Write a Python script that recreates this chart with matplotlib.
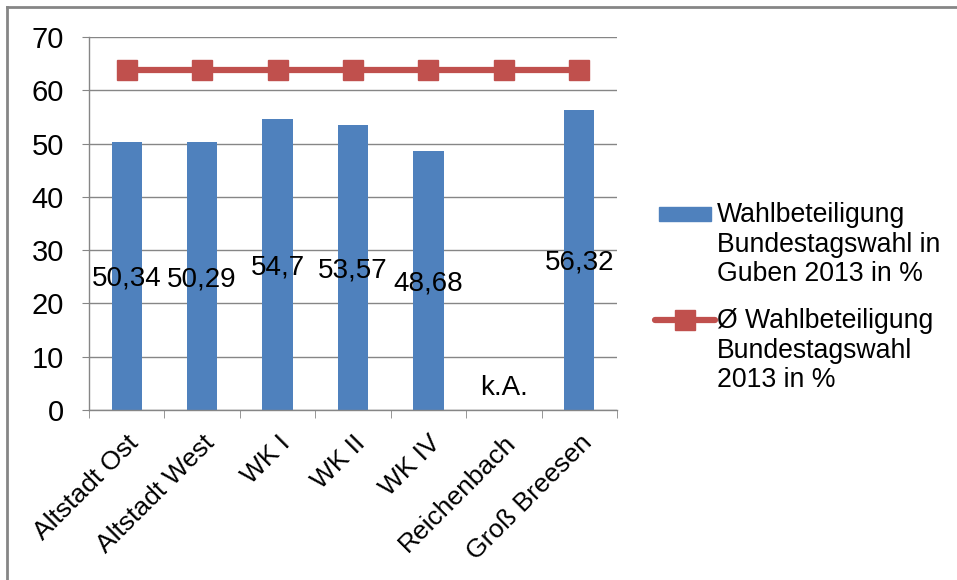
import matplotlib
matplotlib.use("Agg")
import matplotlib.pyplot as plt
import matplotlib.patches as mpatches
from matplotlib.lines import Line2D

categories = ["Altstadt Ost", "Altstadt West", "WK I", "WK II", "WK IV", "Reichenbach", "Groß Breesen"]
turnout = [50.34, 50.29, 54.7, 53.57, 48.68, 0, 56.32]
labels = ["50,34", "50,29", "54,7", "53,57", "48,68", "k.A.", "56,32"]
average = [63.8] * 7
legend_labels = ["Wahlbeteiligung\nBundestagswahl in\nGuben 2013 in %",
                 "Ø Wahlbeteiligung\nBundestagswahl\n2013 in %"]

plt.rcParams['font.family'] = ['Liberation Sans', 'DejaVu Sans']

W, H = 957, 580
fig = plt.figure(figsize=(W/100, H/100), dpi=100)
ax = fig.add_axes([89/W, 1-410/H, (617-89)/W, (410-37)/H])

x = list(range(len(categories)))
bar_color = "#4F81BD"
line_color = "#C0504D"
grid_color = "#868686"
ax.bar(x, turnout, width=0.4, color=bar_color, zorder=2)
ax.plot(x, average, color=line_color, lw=4.5, marker='s', markersize=14, zorder=3)

for xi, v, lab in zip(x, turnout, labels):
    yv = v / 2 if v > 0 else 4.7
    ax.text(xi, yv, lab, ha='center', va='center_baseline', fontsize=20, color='black', zorder=4)

ax.set_xlim(-0.5, 6.5)
ax.set_ylim(0, 70)
ax.set_yticks(range(0, 71, 10))
ax.tick_params(axis='y', labelsize=21, length=5, color=grid_color, pad=13)
ax.yaxis.grid(True, color=grid_color, lw=1)
ax.set_axisbelow(True)

ax.set_xticks([i - 0.5 for i in range(8)], minor=True)
ax.set_xticks(x)
ax.set_xticklabels(categories, rotation=45, ha='right', rotation_mode='anchor', fontsize=19)
ax.tick_params(axis='x', which='major', length=0, pad=15)
ax.tick_params(axis='x', which='minor', length=6, color=grid_color)

for s in ['top', 'right']:
    ax.spines[s].set_visible(False)
for s in ['left', 'bottom']:
    ax.spines[s].set_color(grid_color)
    ax.spines[s].set_linewidth(1)

# legend drawn manually (handles aligned to first text line, like the source)
tf = fig.transFigure
fig.patches.append(mpatches.Rectangle((659/W, 1-221/H), 52/W, 14/H, transform=tf,
                                      color=bar_color))
fig.text(717/W, 1-281/H, legend_labels[0], transform=tf, fontsize=19.2, va='baseline',
         ha='left', linespacing=1.17)
fig.lines.append(Line2D([655/W, 715/W], [1-320/H, 1-320/H], transform=tf, color=line_color,
                        lw=4.5, solid_capstyle='round'))
fig.lines.append(Line2D([685/W], [1-320/H], transform=tf, color=line_color, marker='s',
                        markersize=14, lw=0))
fig.text(717/W, 1-387/H, legend_labels[1], transform=tf, fontsize=19.2, va='baseline',
         ha='left', linespacing=1.17)

# outer frame (only top and left visible)
fig.lines.append(Line2D([7/W, 7/W], [0, 1-7/H], transform=tf, color=grid_color, lw=2))
fig.lines.append(Line2D([7/W, 1], [1-7/H, 1-7/H], transform=tf, color=grid_color, lw=2))

fig.savefig("out.png", dpi=100)
